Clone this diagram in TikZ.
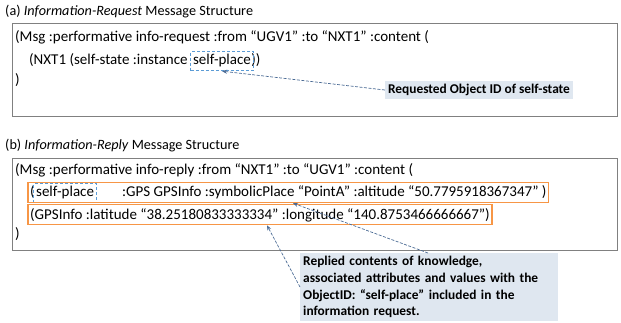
\documentclass[tikz,border=0pt]{standalone}
\usepackage{fontspec}
\setmainfont{Carlito}
\usetikzlibrary{fit,arrows.meta}
\definecolor{framegray}{HTML}{808080}
\definecolor{orangebox}{HTML}{F79646}
\definecolor{bluedash}{HTML}{5B9BD5}
\definecolor{conncol}{HTML}{4A6A94}
\definecolor{lblfill}{HTML}{DFE7F0}
\tikzset{
  txt/.style={anchor=base west, inner sep=0pt, font=\fontsize{15}{18}\selectfont},
  ttl/.style={anchor=base west, inner sep=0pt, font=\fontsize{14.2}{17}\selectfont},
  frame/.style={draw=framegray, line width=1.1pt, anchor=north west, inner sep=0pt},
  dashbox/.style={draw=bluedash, dashed, dash pattern=on 3pt off 2pt, line width=1.1pt, inner xsep=2pt, inner ysep=3pt},
  obox/.style={draw=orangebox, line width=1.1pt, inner xsep=2pt, inner ysep=3pt},
  lbl/.style={fill=lblfill, font=\bfseries\fontsize{13.4}{16.7}\selectfont, inner sep=3pt},
  conn/.style={draw=conncol, dashed, dash pattern=on 3pt off 1.5pt, line width=0.7pt, -{Stealth[length=5pt,width=4pt]}}
}
\begin{document}
\begin{tikzpicture}[x=1pt,y=-1pt]
\useasboundingbox (0,0) rectangle (621,323);
% (a)
\node[ttl] (ta) at (5,16) {(a) \textit{Information-Request} Message Structure};
\node[frame, minimum width=605pt, minimum height=93pt] (fa) at (12,23) {};
\node[txt] (a1) at (15,42) {(Msg :performative info-request :from “UGV1” :to “NXT1” :content (};
\node[txt] (a2) at (29,65) {(NXT1 (self-state :instance};
\node[txt] (a2s) at ([xshift=5pt]a2.base east) {self-place};
\node[txt] (a2e) at (a2s.base east) {))};
\node[dashbox, fit=(a2s)] (spa) {};
\node[txt] (a3) at (15,85) {)};
\node[lbl] (la) at (479,90) {Requested Object ID of self-state};
\draw[conn] (la.west) -- (spa.south);
% (b)
\node[ttl] (tb) at (5,150) {(b) \textit{Information-Reply} Message Structure};
\node[frame, minimum width=605pt, minimum height=92pt] (fb) at (12,158) {};
\node[txt] (b1) at (15,175) {(Msg :performative info-reply :from “NXT1” :to “UGV1” :content (};
\node[txt] (b2a) at (30,197) {(};
\node[txt] (b2s) at ([xshift=1pt]b2a.base east) {self-place};
\node[txt] (b2b) at (122,197) {:GPS GPSInfo :symbolicPlace “PointA” :altitude “50.7795918367347” )};
\node[dashbox, fit=(b2s)] (spb) {};
\node[obox, fit=(b2a)(b2b)] (ob1) {};
\node[txt] (b3) at (30,219) {(GPSInfo :latitude “38.25180833333334” :longitude “140.8753466666667”)};
\node[obox, fit=(b3)] (ob2) {};
\node[txt] (b4) at (15,238) {)};
\node[lbl, anchor=north west, align=left, text width=252pt, minimum height=67pt] (lb) at (300,253)
  {Replied contents of knowledge,\\ associated attributes and values with the\\ ObjectID: “self-place” included in the\\ information request.};
\coordinate (t1) at (293,0);
\coordinate (t2) at (267,0);
\draw[conn] ([xshift=128pt]lb.north west) -- (ob1.south -| t1);
\draw[conn] (lb.west) -- (ob2.south -| t2);
\end{tikzpicture}
\end{document}
